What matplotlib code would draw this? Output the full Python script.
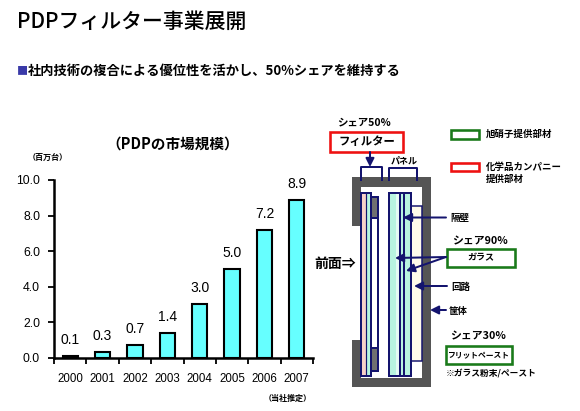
import matplotlib
matplotlib.use("Agg")
import matplotlib.pyplot as plt
from matplotlib.patches import Rectangle

# ---------------- data ----------------
years = ["2000", "2001", "2002", "2003", "2004", "2005", "2006", "2007"]
market = [0.1, 0.3, 0.7, 1.4, 3.0, 5.0, 7.2, 8.9]
yticks = [0, 2, 4, 6, 8, 10]

title = "PDPフィルター事業展開"
subtitle = "社内技術の複合による優位性を活かし、50%シェアを維持する"
chart_title = "（PDPの市場規模）"
unit_label = "（百万台）"
note_label = "（当社推定）"

JP = ["Noto Sans CJK JP", "DejaVu Sans"]
NUM = ["Liberation Sans", "DejaVu Sans"]
NAVY = "#14146e"
GREEN = "#1a7a1a"
RED = "#ee1111"

fig = plt.figure(figsize=(5.8, 4.11), dpi=100)
fig.patch.set_facecolor("white")

# overlay in pixel coordinates for text and diagram
ov = fig.add_axes([0, 0, 1, 1])
ov.set_xlim(0, 580)
ov.set_ylim(411, 0)
ov.axis("off")

px = 0.72  # one pixel in points

# ---------- titles ----------
ov.text(17, 22, title, family=JP, fontsize=15, va="center", ha="left", color="black",
        weight="medium")
ov.text(17, 71, "■", family=JP, fontsize=8, va="center", ha="left", color="#3a3aa8")
ov.text(28, 71, subtitle, family=JP, fontsize=9.5, va="center", ha="left",
        color="black", weight="bold")

ov.text(173, 144, chart_title, family=JP, fontsize=10.5, va="center", ha="center", weight="bold")
ov.text(48, 157, unit_label, family=JP, fontsize=5.8, va="center", ha="center", weight="bold")
ov.text(288, 398, note_label, family=JP, fontsize=5.8, va="center", ha="center", weight="bold")

# ---------- bar chart ----------
ax = fig.add_axes([54 / 580, 53.3 / 411, 259 / 580, 177.7 / 411])
ax.patch.set_alpha(0)
x = list(range(len(years)))
bars = ax.bar(x, market, width=0.47, color="#66ffff", edgecolor="black", linewidth=1.5)
for xi, v in zip(x, market):
    ax.annotate(f"{v:.1f}", (xi, v), xytext=(0, 6.5), textcoords="offset points",
                ha="center", va="bottom", family=NUM, fontsize=10)
ax.set_xlim(-0.5, len(years) - 0.5)
ax.set_ylim(0, 10)
ax.set_yticks(yticks)
ax.set_yticklabels([f"{t:.1f}" for t in yticks], family=NUM, fontsize=8.8)
ax.set_xticks(x)
ax.set_xticklabels(years, family=NUM, fontsize=8.3)
ax.set_xticks([i - 0.5 for i in range(len(years) + 1)], minor=True)
ax.tick_params(axis="x", which="major", length=0, pad=11)
ax.tick_params(axis="x", which="minor", length=4, width=1.3, direction="out")
ax.tick_params(axis="y", length=4, width=1.3, direction="out", pad=6)
for s in ["top", "right"]:
    ax.spines[s].set_visible(False)
for s in ["left", "bottom"]:
    ax.spines[s].set_linewidth(1.8)

# ---------- diagram ----------
GRAY = "#555555"
def rect(x0, y0, x1, y1, fc="none", ec="none", lw=0, z=2):
    ov.add_patch(Rectangle((x0, y0), x1 - x0, y1 - y0, facecolor=fc, edgecolor=ec,
                           linewidth=lw, zorder=z))

def line(xs, ys, lw=2, c=NAVY, z=4):
    ov.plot(xs, ys, color=c, lw=lw * px, zorder=z, solid_capstyle="butt")

def arrow(x0, y0, x1, y1):
    ov.annotate("", xy=(x1, y1), xytext=(x0, y0),
                arrowprops=dict(arrowstyle="-|>,head_length=0.5,head_width=0.25",
                                color=NAVY, lw=2 * px, shrinkA=0, shrinkB=0), zorder=6)

# housing
rect(352, 177, 431, 187, fc=GRAY)          # top
rect(422, 177, 431, 387, fc=GRAY)          # right
rect(352, 378, 431, 387, fc=GRAY)          # bottom
rect(352, 177, 361, 226, fc=GRAY)          # left top
rect(352, 340, 361, 387, fc=GRAY)          # left bottom

# filter
rect(361, 193, 365.5, 376, fc="#f8d0c8")
rect(365.5, 193, 370, 376, fc="#b8f4e0")
rect(360.5, 193, 370.5, 376, ec=NAVY, lw=2 * px, z=4)
line([365.5, 365.5], [193, 376], lw=1.2)
# narrow holder
rect(371, 198, 377, 218, fc="#707070")
rect(371, 348, 377, 370, fc="#707070")
rect(370.5, 197, 377.5, 371, ec=NAVY, lw=2 * px, z=4)
line([370.5, 377.5], [218, 218], lw=2)
line([370.5, 377.5], [348, 348], lw=2)

# panel
rect(389, 193, 411, 376, fc="#b8f4e0")
rect(396, 193, 400, 376, fc="#e4fbf3")
rect(389, 193, 411, 376, ec=NAVY, lw=2 * px, z=4)
line([400, 400], [193, 376], lw=2)
line([404, 404], [193, 376], lw=2)
# thin partition rect
rect(411, 206, 422, 361, fc="#fffbea", ec=NAVY, lw=1.5 * px, z=3)

# brackets
line([361, 361, 382, 382], [181, 167, 167, 181], lw=2)
line([389, 389, 417, 417], [181, 168, 168, 181], lw=2)
arrow(370, 152, 370, 167)

# boxes
rect(330, 131.5, 403, 151.5, fc="white", ec=RED, lw=2.6 * px, z=5)
ov.text(366.5, 141.5, "フィルター", family=JP, fontsize=8.2, weight="bold",
        ha="center", va="center", zorder=7)
ov.text(364, 122, "シェア50%", family=JP, fontsize=7.5, weight="bold",
        ha="center", va="center")
ov.text(404, 161, "パネル", family=JP, fontsize=6.5, weight="bold", ha="center", va="center")

rect(447, 248.5, 515, 266.5, fc="white", ec=GREEN, lw=2.6 * px, z=5)
ov.text(481, 257.5, "ガラス", family=JP, fontsize=6.5, weight="bold",
        ha="center", va="center", zorder=7)
ov.text(480, 241, "シェア90%", family=JP, fontsize=7.8, weight="bold",
        ha="center", va="center")

rect(445.5, 346, 512, 363.5, fc="white", ec=GREEN, lw=2.6 * px, z=5)
ov.text(478.5, 354.5, "フリットペースト", family=JP, fontsize=5.6, weight="bold",
        ha="center", va="center", zorder=7)
ov.text(478, 336, "シェア30%", family=JP, fontsize=7.8, weight="bold",
        ha="center", va="center")
ov.text(446, 372.5, "※ガラス粉末/ペースト", family=JP, fontsize=6.3, weight="bold",
        ha="left", va="center")

# arrows + labels
arrow(446, 217.5, 403, 217.5)
ov.text(450, 217.5, "隔壁", family=JP, fontsize=6.8, weight="bold", ha="left", va="center")
arrow(446, 257, 395, 258)
arrow(446, 257, 406, 271)
arrow(447, 286, 414, 286)
ov.text(451, 287, "回路", family=JP, fontsize=6.8, weight="bold", ha="left", va="center")
arrow(446, 310, 430, 310)
ov.text(449, 310.5, "筐体", family=JP, fontsize=6.8, weight="bold", ha="left", va="center")

ov.text(314, 263.5, "前面⇒", family=JP, fontsize=10, weight="bold", ha="left", va="center")

# legend
rect(450.5, 129.5, 479, 138.5, fc="white", ec=GREEN, lw=2.6 * px, z=5)
ov.text(486, 134, "旭硝子提供部材", family=JP, fontsize=6.8, weight="bold", ha="left", va="center")
rect(450.5, 163, 479, 171.5, fc="white", ec=RED, lw=2.6 * px, z=5)
ov.text(486, 167, "化学品カンパニー", family=JP, fontsize=6.8, weight="bold", ha="left", va="center")
ov.text(486, 178.5, "提供部材", family=JP, fontsize=6.8, weight="bold", ha="left", va="center")

fig.savefig("out.png", dpi=100, facecolor="white")
